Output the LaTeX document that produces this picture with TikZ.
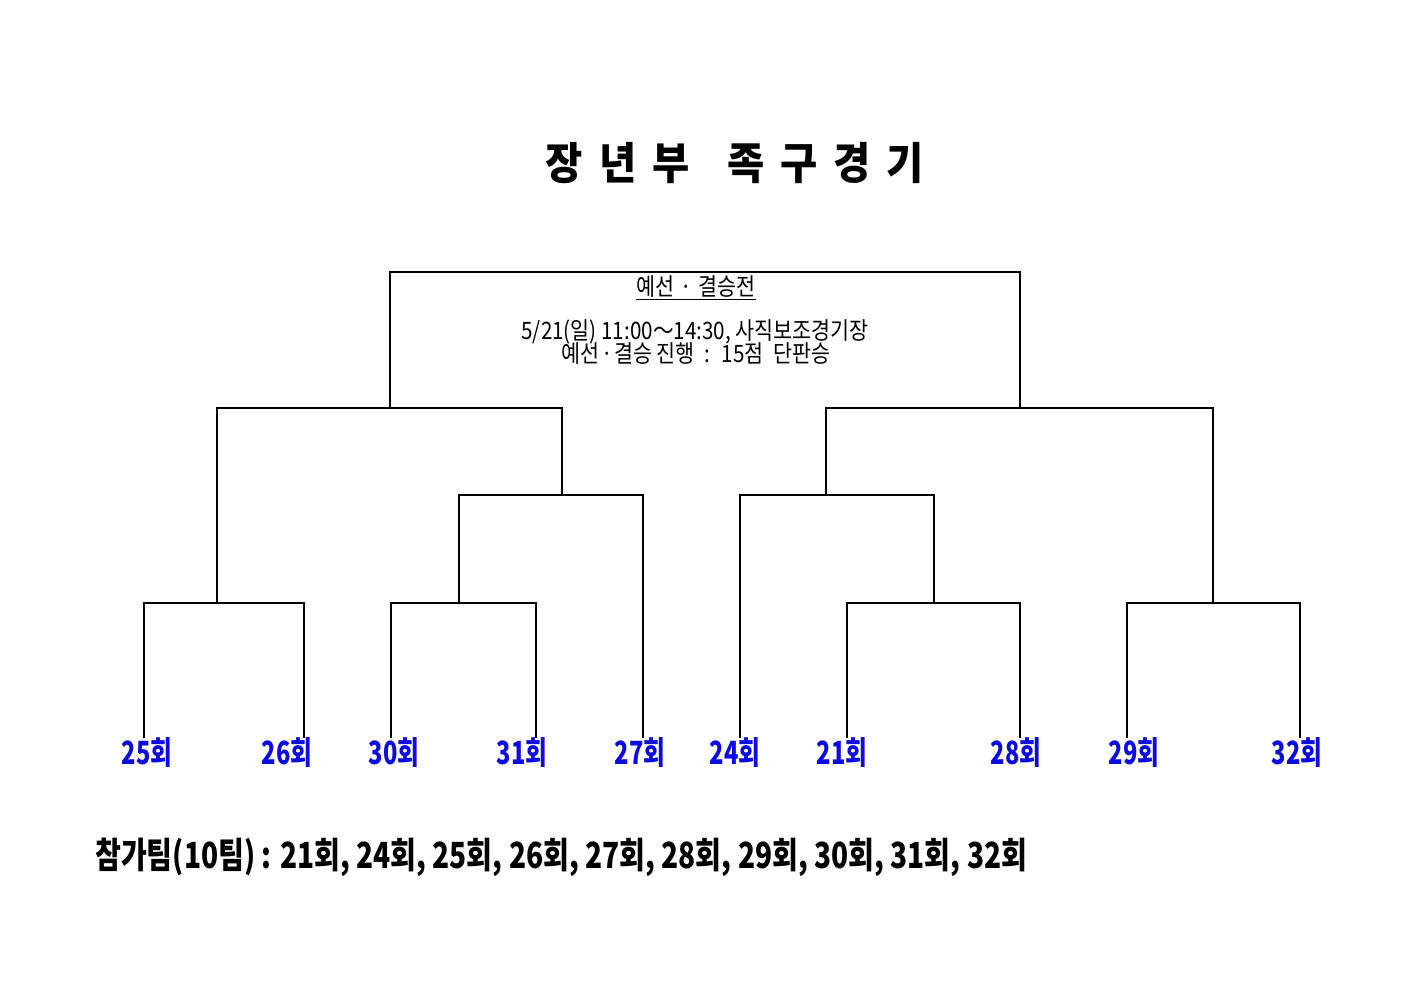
\documentclass[tikz,border=0pt]{standalone}
\usepackage{fontspec}
\newfontfamily\krlab[FakeStretch=0.74]{Noto Sans CJK KR}
\newfontfamily\krtitle[FakeStretch=0.92]{Noto Sans CJK KR}
\newfontfamily\krbox[FakeStretch=0.86]{Noto Sans CJK KR}
\newfontfamily\krfoot[FakeStretch=0.78]{Noto Sans CJK KR}
\definecolor{labblue}{RGB}{12,12,225}
\begin{document}
\begin{tikzpicture}[x=0.75pt,y=-0.75pt,
  wire/.style={draw=black,line width=1.1pt},
  lab/.style={font=\krlab\bfseries\fontsize{24}{24}\selectfont,text=labblue,inner sep=0pt,anchor=center},
  boxtxt/.style={font=\krbox\fontsize{18}{20}\selectfont,inner sep=0pt,align=center},
  ttl/.style={font=\krtitle\bfseries\fontsize{33}{33}\selectfont,inner sep=0pt},
  foot/.style={font=\krfoot\bfseries\fontsize{27}{27}\selectfont,inner sep=0pt,anchor=west}]
\useasboundingbox (0,0) rectangle (1403,992);
\fill[white] (0,0) rectangle (1403,992);
% title
\node[ttl] (title) at (735,163) {장\hspace{12pt}년\hspace{12pt}부\hspace{28pt}족\hspace{12pt}구\hspace{12pt}경\hspace{12pt}기};
% box texts
\node[boxtxt] (hdr) at (696,288) {\underline{예선\hspace{5pt}·\hspace{5pt}결승전}};
\node[boxtxt] (info1) at (695,332) {5/21(일) 11:00～14:30, 사직보조경기장};
\node[boxtxt] (info2) at (696,354) {예선\hspace{1pt}·\hspace{1pt}결승 진행\hspace{4pt} :\hspace{4pt} 15점\ \ 단판승};
% junction coordinates
\coordinate (fL) at (390,408); \coordinate (fTL) at (390,272);
\coordinate (fTR) at (1020,272); \coordinate (fR) at (1020,408);
\coordinate (aL) at (217,408); \coordinate (aR) at (562,408);
\coordinate (bL) at (826,408); \coordinate (bR) at (1213,408);
\coordinate (cL) at (459,495); \coordinate (cR) at (643,495);
\coordinate (dL) at (740,495); \coordinate (dR) at (934,495);
\coordinate (m1L) at (144,603); \coordinate (m1R) at (304,603);
\coordinate (m2L) at (391,603); \coordinate (m2R) at (536,603);
\coordinate (m3L) at (847,603); \coordinate (m3R) at (1020,603);
\coordinate (m4L) at (1127,603); \coordinate (m4R) at (1300,603);
% leaf ends
\coordinate (e25) at (144,738); \coordinate (e26) at (304,738);
\coordinate (e30) at (391,738); \coordinate (e31) at (536,738);
\coordinate (e27) at (643,738); \coordinate (e24) at (740,738);
\coordinate (e21) at (847,738); \coordinate (e28) at (1020,738);
\coordinate (e29) at (1127,738); \coordinate (e32) at (1300,738);
% labels
\node[lab] (l25) at (147,753) {25회};
\node[lab] (l26) at (287,753) {26회};
\node[lab] (l30) at (394,753) {30회};
\node[lab] (l31) at (522,753) {31회};
\node[lab] (l27) at (640,753) {27회};
\node[lab] (l24) at (735,753) {24회};
\node[lab] (l21) at (842,753) {21회};
\node[lab] (l28) at (1016,753) {28회};
\node[lab] (l29) at (1134,753) {29회};
\node[lab] (l32) at (1297,753) {32회};
% bracket lines
\draw[wire] (fL) -- (fTL) -- (fTR) -- (fR);
\draw[wire] (m1L -| aL) -- (aL) -- (aR) -- (cL -| aR);
\draw[wire] (dL -| bL) -- (bL) -- (bR) -- (m4L -| bR);
\draw[wire] (m2L -| cL) -- (cL) -- (cR) -- (e27);
\draw[wire] (e24) -- (dL) -- (dR) -- (m3L -| dR);
\draw[wire] (e25) -- (m1L) -- (m1R) -- (e26);
\draw[wire] (e30) -- (m2L) -- (m2R) -- (e31);
\draw[wire] (e21) -- (m3L) -- (m3R) -- (e28);
\draw[wire] (e29) -- (m4L) -- (m4R) -- (e32);
% footer
\node[foot] (teams) at (95,857) {참가팀(10팀) : 21회, 24회, 25회, 26회, 27회, 28회, 29회, 30회, 31회, 32회};
\end{tikzpicture}
\end{document}
